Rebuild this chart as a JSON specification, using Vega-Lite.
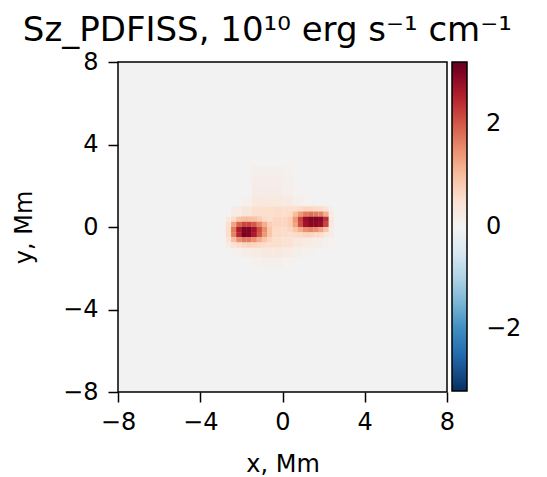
{
  "$schema": "https://vega.github.io/schema/vega-lite/v6.json",
  "width": 329,
  "height": 330,
  "autosize": "none",
  "padding": {"left": 118, "top": 62, "right": 100, "bottom": 85},
  "background": "white",
  "config": {
    "font": "DejaVu Sans",
    "view": {"stroke": "black", "strokeWidth": 1.5, "fill": "#f2f2f2"}
  },
  "title": {
    "text": "Sz_PDFISS, 10¹⁰ erg s⁻¹ cm⁻¹",
    "fontSize": 34,
    "fontWeight": "normal",
    "color": "black",
    "anchor": "middle",
    "frame": "bounds",
    "offset": 2,
    "dx": 0
  },
  "datasets": {
    "coarse": [
      {"x": -1.25, "y": 2.75, "v": 0.12}, {"x": -0.75, "y": 2.75, "v": 0.12}, {"x": -0.25, "y": 2.75, "v": 0.12}, {"x": 0.25, "y": 2.75, "v": 0.08},
      {"x": -1.25, "y": 2.25, "v": 0.15}, {"x": -0.75, "y": 2.25, "v": 0.15}, {"x": -0.25, "y": 2.25, "v": 0.15}, {"x": 0.25, "y": 2.25, "v": 0.1},
      {"x": -1.25, "y": 1.75, "v": 0.18}, {"x": -0.75, "y": 1.75, "v": 0.18}, {"x": -0.25, "y": 1.75, "v": 0.18}, {"x": 0.25, "y": 1.75, "v": 0.12}, {"x": 0.75, "y": 1.75, "v": 0.05},
      {"x": -1.75, "y": 1.25, "v": 0.08}, {"x": -1.25, "y": 1.25, "v": 0.3}, {"x": -0.75, "y": 1.25, "v": 0.3}, {"x": -0.25, "y": 1.25, "v": 0.3}, {"x": 0.25, "y": 1.25, "v": 0.25}, {"x": 0.75, "y": 1.25, "v": 0.12}, {"x": 1.25, "y": 1.25, "v": 0.06},
      {"x": -2.25, "y": 0.75, "v": 0.2}, {"x": -1.75, "y": 0.75, "v": 0.35}, {"x": -1.25, "y": 0.75, "v": 0.5}, {"x": -0.75, "y": 0.75, "v": 0.55}, {"x": -0.25, "y": 0.75, "v": 0.6}, {"x": 0.25, "y": 0.75, "v": 0.55}, {"x": 0.75, "y": 0.75, "v": 0.45}, {"x": 1.25, "y": 0.75, "v": 0.4}, {"x": 1.75, "y": 0.75, "v": 0.35}, {"x": 2.25, "y": 0.75, "v": 0.12},
      {"x": -2.75, "y": 0.25, "v": 0.05}, {"x": -2.25, "y": 0.25, "v": 0.5}, {"x": -1.75, "y": 0.25, "v": 1.2}, {"x": -1.25, "y": 0.25, "v": 1.1}, {"x": -0.75, "y": 0.25, "v": 0.75}, {"x": -0.25, "y": 0.25, "v": 0.7}, {"x": 0.25, "y": 0.25, "v": 0.7}, {"x": 0.75, "y": 0.25, "v": 1.6}, {"x": 1.25, "y": 0.25, "v": 2.4}, {"x": 1.75, "y": 0.25, "v": 2.3}, {"x": 2.25, "y": 0.25, "v": 0.4},
      {"x": -2.75, "y": -0.25, "v": 0.08}, {"x": -2.25, "y": -0.25, "v": 1.1}, {"x": -1.75, "y": -0.25, "v": 2.4}, {"x": -1.25, "y": -0.25, "v": 2.0}, {"x": -0.75, "y": -0.25, "v": 0.85}, {"x": -0.25, "y": -0.25, "v": 0.65}, {"x": 0.25, "y": -0.25, "v": 0.6}, {"x": 0.75, "y": -0.25, "v": 1.0}, {"x": 1.25, "y": -0.25, "v": 1.3}, {"x": 1.75, "y": -0.25, "v": 1.2}, {"x": 2.25, "y": -0.25, "v": 0.2},
      {"x": -2.25, "y": -0.75, "v": 0.25}, {"x": -1.75, "y": -0.75, "v": 0.6}, {"x": -1.25, "y": -0.75, "v": 0.65}, {"x": -0.75, "y": -0.75, "v": 0.6}, {"x": -0.25, "y": -0.75, "v": 0.55}, {"x": 0.25, "y": -0.75, "v": 0.45}, {"x": 0.75, "y": -0.75, "v": 0.3}, {"x": 1.25, "y": -0.75, "v": 0.22}, {"x": 1.75, "y": -0.75, "v": 0.15}, {"x": 2.25, "y": -0.75, "v": 0.08},
      {"x": -2.25, "y": -1.25, "v": 0.08}, {"x": -1.75, "y": -1.25, "v": 0.15}, {"x": -1.25, "y": -1.25, "v": 0.22}, {"x": -0.75, "y": -1.25, "v": 0.28}, {"x": -0.25, "y": -1.25, "v": 0.28}, {"x": 0.25, "y": -1.25, "v": 0.22}, {"x": 0.75, "y": -1.25, "v": 0.12}, {"x": 1.25, "y": -1.25, "v": 0.08},
      {"x": -1.25, "y": -1.75, "v": 0.08}, {"x": -0.75, "y": -1.75, "v": 0.1}, {"x": -0.25, "y": -1.75, "v": 0.1}, {"x": 0.25, "y": -1.75, "v": 0.06}
    ],
    "fine": [
      {"x": -2.625, "y": 0.375, "v": 0.3}, {"x": -2.375, "y": 0.375, "v": 0.6}, {"x": -2.125, "y": 0.375, "v": 0.9}, {"x": -1.875, "y": 0.375, "v": 1.0}, {"x": -1.625, "y": 0.375, "v": 1.0}, {"x": -1.375, "y": 0.375, "v": 0.95}, {"x": -1.125, "y": 0.375, "v": 0.8}, {"x": -0.875, "y": 0.375, "v": 0.65}, {"x": -0.625, "y": 0.375, "v": 0.5},
      {"x": -2.625, "y": 0.125, "v": 0.5}, {"x": -2.375, "y": 0.125, "v": 1.3}, {"x": -2.125, "y": 0.125, "v": 1.9}, {"x": -1.875, "y": 0.125, "v": 2.2}, {"x": -1.625, "y": 0.125, "v": 2.2}, {"x": -1.375, "y": 0.125, "v": 2.0}, {"x": -1.125, "y": 0.125, "v": 1.6}, {"x": -0.875, "y": 0.125, "v": 1.2}, {"x": -0.625, "y": 0.125, "v": 0.8},
      {"x": -2.625, "y": -0.125, "v": 0.6}, {"x": -2.375, "y": -0.125, "v": 1.7}, {"x": -2.125, "y": -0.125, "v": 2.6}, {"x": -1.875, "y": -0.125, "v": 3.0}, {"x": -1.625, "y": -0.125, "v": 3.0}, {"x": -1.375, "y": -0.125, "v": 2.7}, {"x": -1.125, "y": -0.125, "v": 2.1}, {"x": -0.875, "y": -0.125, "v": 1.5}, {"x": -0.625, "y": -0.125, "v": 0.9},
      {"x": -2.625, "y": -0.375, "v": 0.6}, {"x": -2.375, "y": -0.375, "v": 1.6}, {"x": -2.125, "y": -0.375, "v": 2.5}, {"x": -1.875, "y": -0.375, "v": 3.1}, {"x": -1.625, "y": -0.375, "v": 3.0}, {"x": -1.375, "y": -0.375, "v": 2.6}, {"x": -1.125, "y": -0.375, "v": 2.0}, {"x": -0.875, "y": -0.375, "v": 1.4}, {"x": -0.625, "y": -0.375, "v": 0.9},
      {"x": -2.625, "y": -0.625, "v": 0.4}, {"x": -2.375, "y": -0.625, "v": 1.0}, {"x": -2.125, "y": -0.625, "v": 1.5}, {"x": -1.875, "y": -0.625, "v": 1.7}, {"x": -1.625, "y": -0.625, "v": 1.7}, {"x": -1.375, "y": -0.625, "v": 1.5}, {"x": -1.125, "y": -0.625, "v": 1.2}, {"x": -0.875, "y": -0.625, "v": 0.9}, {"x": -0.625, "y": -0.625, "v": 0.7},
      {"x": -2.625, "y": -0.875, "v": 0.2}, {"x": -2.375, "y": -0.875, "v": 0.45}, {"x": -2.125, "y": -0.875, "v": 0.6}, {"x": -1.875, "y": -0.875, "v": 0.7}, {"x": -1.625, "y": -0.875, "v": 0.75}, {"x": -1.375, "y": -0.875, "v": 0.7}, {"x": -1.125, "y": -0.875, "v": 0.65}, {"x": -0.875, "y": -0.875, "v": 0.6}, {"x": -0.625, "y": -0.875, "v": 0.5},
      {"x": 0.375, "y": 0.875, "v": 0.5}, {"x": 0.625, "y": 0.875, "v": 0.55}, {"x": 0.875, "y": 0.875, "v": 0.6}, {"x": 1.125, "y": 0.875, "v": 0.7}, {"x": 1.375, "y": 0.875, "v": 0.7}, {"x": 1.625, "y": 0.875, "v": 0.65}, {"x": 1.875, "y": 0.875, "v": 0.6}, {"x": 2.125, "y": 0.875, "v": 0.45}, {"x": 2.375, "y": 0.875, "v": 0.1},
      {"x": 0.375, "y": 0.625, "v": 0.65}, {"x": 0.625, "y": 0.625, "v": 1.0}, {"x": 0.875, "y": 0.625, "v": 1.4}, {"x": 1.125, "y": 0.625, "v": 1.7}, {"x": 1.375, "y": 0.625, "v": 1.8}, {"x": 1.625, "y": 0.625, "v": 1.7}, {"x": 1.875, "y": 0.625, "v": 1.6}, {"x": 2.125, "y": 0.625, "v": 1.2}, {"x": 2.375, "y": 0.625, "v": 0.2},
      {"x": 0.375, "y": 0.375, "v": 0.8}, {"x": 0.625, "y": 0.375, "v": 1.4}, {"x": 0.875, "y": 0.375, "v": 2.2}, {"x": 1.125, "y": 0.375, "v": 2.8}, {"x": 1.375, "y": 0.375, "v": 3.0}, {"x": 1.625, "y": 0.375, "v": 3.0}, {"x": 1.875, "y": 0.375, "v": 2.9}, {"x": 2.125, "y": 0.375, "v": 2.4}, {"x": 2.375, "y": 0.375, "v": 0.3},
      {"x": 0.375, "y": 0.125, "v": 0.8}, {"x": 0.625, "y": 0.125, "v": 1.3}, {"x": 0.875, "y": 0.125, "v": 2.1}, {"x": 1.125, "y": 0.125, "v": 2.7}, {"x": 1.375, "y": 0.125, "v": 2.9}, {"x": 1.625, "y": 0.125, "v": 2.9}, {"x": 1.875, "y": 0.125, "v": 2.8}, {"x": 2.125, "y": 0.125, "v": 2.2}, {"x": 2.375, "y": 0.125, "v": 0.3},
      {"x": 0.375, "y": -0.125, "v": 0.7}, {"x": 0.625, "y": -0.125, "v": 0.9}, {"x": 0.875, "y": -0.125, "v": 1.2}, {"x": 1.125, "y": -0.125, "v": 1.5}, {"x": 1.375, "y": -0.125, "v": 1.6}, {"x": 1.625, "y": -0.125, "v": 1.5}, {"x": 1.875, "y": -0.125, "v": 1.3}, {"x": 2.125, "y": -0.125, "v": 0.9}, {"x": 2.375, "y": -0.125, "v": 0.15},
      {"x": 0.375, "y": -0.375, "v": 0.5}, {"x": 0.625, "y": -0.375, "v": 0.6}, {"x": 0.875, "y": -0.375, "v": 0.65}, {"x": 1.125, "y": -0.375, "v": 0.7}, {"x": 1.375, "y": -0.375, "v": 0.7}, {"x": 1.625, "y": -0.375, "v": 0.6}, {"x": 1.875, "y": -0.375, "v": 0.5}, {"x": 2.125, "y": -0.375, "v": 0.3}
    ]
  },
  "encoding": {
    "x": {
      "field": "x0", "type": "quantitative",
      "scale": {"domain": [-8, 8], "nice": false, "zero": false},
      "axis": {
        "title": "x, Mm", "values": [-8, -4, 0, 4, 8], "format": "d",
        "labelExpr": "replace(datum.label, '-', '−')",
        "grid": false, "domain": false, "tickColor": "black", "tickWidth": 1.5, "tickSize": 10,
        "labelFontSize": 24, "labelColor": "black", "labelPadding": 8, "labelFlush": false,
        "titleFontSize": 24, "titleFontWeight": "normal", "titleColor": "black", "titlePadding": 18
      }
    },
    "x2": {"field": "x1"},
    "y": {
      "field": "y0", "type": "quantitative",
      "scale": {"domain": [-8, 8], "nice": false, "zero": false},
      "axis": {
        "title": "y, Mm", "values": [-8, -4, 0, 4, 8], "format": "d",
        "labelExpr": "replace(datum.label, '-', '−')",
        "grid": false, "domain": false, "tickColor": "black", "tickWidth": 1.5, "tickSize": 10,
        "labelFontSize": 24, "labelColor": "black", "labelPadding": 10, "labelFlush": false,
        "titleFontSize": 24, "titleFontWeight": "normal", "titleColor": "black", "titlePadding": 26
      }
    },
    "y2": {"field": "y1"},
    "color": {
      "field": "v", "type": "quantitative",
      "scale": {
        "domain": [-3.22, 3.22],
        "range": ["#053061", "#2166ac", "#4393c3", "#92c5de", "#d1e5f0", "#f3f3f3", "#fddbc7", "#f4a582", "#d6604d", "#b2182b", "#67001f"]
      },
      "legend": {
        "type": "gradient",
        "orient": "none", "legendX": 334, "legendY": 0, "direction": "vertical",
        "title": null, "gradientLength": 329, "gradientThickness": 15,
        "gradientStrokeColor": "black", "gradientStrokeWidth": 1.5,
        "values": [-2, 0, 2], "format": "d",
        "labelExpr": "replace(datum.label, '-', '−')",
        "labelFontSize": 24, "labelColor": "black", "labelOffset": 19
      }
    }
  },
  "layer": [
    {
      "data": {"name": "coarse"},
      "transform": [
        {"calculate": "datum.x - 0.25", "as": "x0"},
        {"calculate": "datum.x + 0.25", "as": "x1"},
        {"calculate": "datum.y - 0.25", "as": "y0"},
        {"calculate": "datum.y + 0.25", "as": "y1"}
      ],
      "mark": {"type": "rect"}
    },
    {
      "data": {"name": "fine"},
      "transform": [
        {"calculate": "datum.x - 0.125", "as": "x0"},
        {"calculate": "datum.x + 0.125", "as": "x1"},
        {"calculate": "datum.y - 0.125", "as": "y0"},
        {"calculate": "datum.y + 0.125", "as": "y1"}
      ],
      "mark": {"type": "rect"}
    }
  ]
}
